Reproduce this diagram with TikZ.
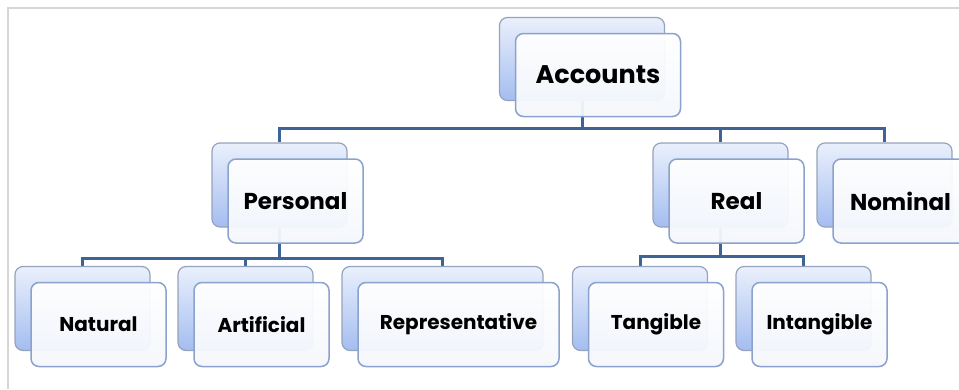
\documentclass[tikz,border=0pt]{standalone}
\usepackage{fontspec}
\setmainfont{Poppins}
\usetikzlibrary{calc, positioning, backgrounds}

\definecolor{linkblue}{RGB}{62,100,150}
\definecolor{backtop}{RGB}{234,240,252}
\definecolor{backbot}{RGB}{164,189,240}
\definecolor{backedge}{RGB}{150,163,188}
\definecolor{frontedge}{RGB}{138,162,204}
\definecolor{fronttint}{RGB}{244,247,252}
\definecolor{framegray}{RGB}{214,214,214}

\begin{document}
\begin{tikzpicture}[
        x=1pt, y=-1pt,
        font=\bfseries,
        back/.style={
            draw=backedge,
            line width=1.2pt,
            rounded corners=8pt,
            top color=backtop,
            bottom color=backbot,
            inner sep=0pt,
            minimum width=135pt,
            minimum height=84pt
        },
        front/.style={
            draw=frontedge,
            line width=1.5pt,
            rounded corners=8pt,
            top color=white,
            bottom color=fronttint,
            fill opacity=0.95,
            text opacity=1,
            inner sep=0pt,
            minimum width=135pt,
            minimum height=84pt
        },
        top/.style={font=\bfseries\fontsize{25.5}{30}\selectfont},
        mid/.style={font=\bfseries\fontsize{23}{27}\selectfont},
        low/.style={font=\bfseries\fontsize{20}{24}\selectfont},
        link/.style={draw=linkblue, line width=3pt}
    ]
    \useasboundingbox (0,0) rectangle (959,389);
    \draw[framegray, line width=2pt] (8,389) -- (8,8) -- (959,8);

    % --- ACCOUNTS ---
    \node[back, minimum width=165pt, minimum height=83pt] (acc) at (582,59) {};
    \node[front, top, minimum width=165pt, minimum height=83pt] (accounts) at ($(acc)+(16,16)$) {Accounts};

    % --- SECOND LEVEL ---
    \node[back] (pers) at (279.5,185) {};
    \node[front, mid] (personal) at ($(pers)+(16,16)$) {Personal};
    \node[back] (real) at (720.5,185) {};
    \node[front, mid] (realacc) at ($(real)+(16,16)$) {Real};
    \node[back] (nom) at (884.5,185) {};
    \node[front, mid] (nominal) at ($(nom)+(16,16)$) {Nominal};

    % --- PERSONAL CHILDREN ---
    \node[back] (nat) at (82.5,308.5) {};
    \node[front, low] (natural) at ($(nat)+(16,16)$) {Natural};
    \node[back] (art) at (245.5,308.5) {};
    \node[front, low] (artificial) at ($(art)+(16,16)$) {Artificial};
    \node[back, minimum width=201pt] (rep) at (442.5,308.5) {};
    \node[front, low, minimum width=201pt] (representative) at ($(rep)+(16,16)$) {Representative};

    % --- REAL CHILDREN ---
    \node[back] (tan) at (640,308.5) {};
    \node[front, low] (tangible) at ($(tan)+(16,16)$) {Tangible};
    \node[back] (intg) at (803.5,308.5) {};
    \node[front, low] (intangible) at ($(intg)+(16,16)$) {Intangible};

    % --- LINKS ---
    \coordinate (bartop) at (0,128);
    \coordinate (barleft) at (0,258);
    \coordinate (barright) at (0,256);
    \begin{scope}[on background layer]
        \draw[link] (acc) -- (acc |- bartop);
        \draw[link] (pers) |- (nom |- bartop) -- (nom);
        \draw[link] (real) -- (real |- bartop);
        \draw[link] (pers) -- (pers |- barleft);
        \draw[link] (nat) |- (rep |- barleft) -- (rep);
        \draw[link] (art) -- (art |- barleft);
        \draw[link] (real) -- (real |- barright);
        \draw[link] (tan) |- (intg |- barright) -- (intg);
    \end{scope}

\end{tikzpicture}
\end{document}
